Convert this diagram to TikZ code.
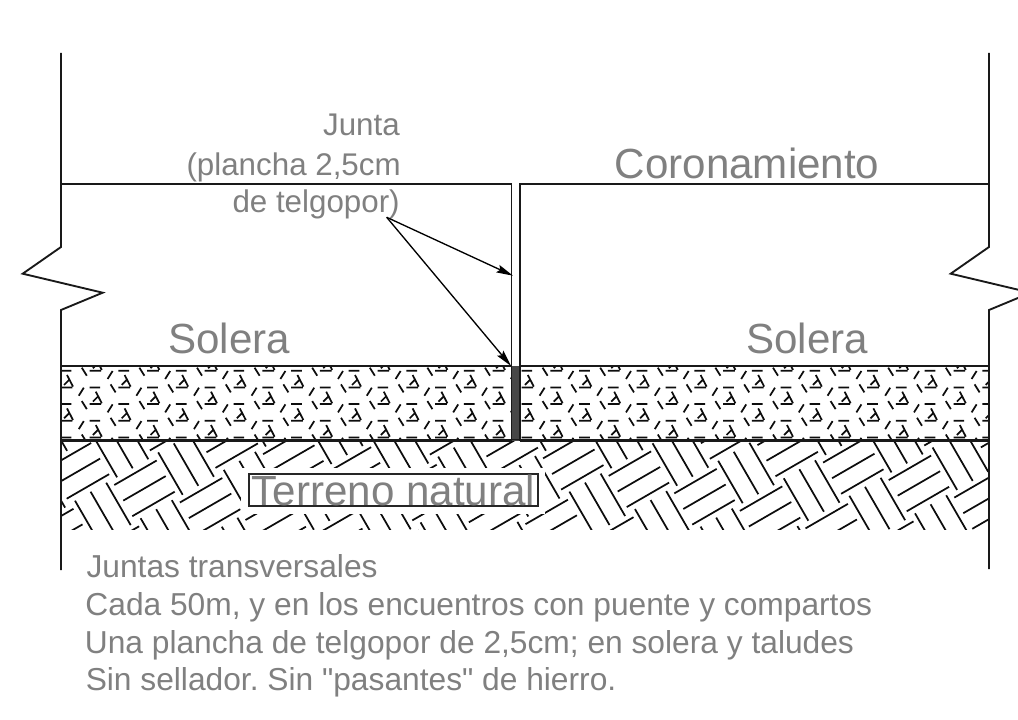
\documentclass[tikz,border=0pt]{standalone}
\usepackage{fontspec}
\newfontfamily\lib{Liberation Sans}
\usetikzlibrary{arrows.meta}
\definecolor{txt}{HTML}{808080}
\tikzset{
  outline/.style={line width=1.4pt,draw=black!90},
  thinrule/.style={line width=1pt,draw=black!90},
  hatch/.style={line width=1.3pt,black!95},
  big/.style={font=\lib\frenchspacing\fontsize{31.6}{34}\selectfont,text=txt,inner sep=0pt},
  small/.style={font=\lib\frenchspacing\fontsize{23.8}{26}\selectfont,text=txt,inner sep=0pt},
  junta/.style={font=\lib\fontsize{23.5}{26}\selectfont,text=txt,inner sep=0pt},
  pointer/.style={line width=1pt,black,-{Stealth[length=12.5pt,width=6pt,inset=2pt]}},
}
\begin{document}
\begin{tikzpicture}[x=0.75pt,y=-0.75pt]
\useasboundingbox (0,0) rectangle (1018,720);
\clip (0,0) rectangle (1018,720);
\fill[white] (0,0) rectangle (1018,720);
% concrete
\begin{scope}
\clip (62,366) rectangle (511,440) (520,366) rectangle (989,440);
\foreach \j in {-1,...,5}{
\foreach \i in {-4,...,17}{
 \pgfmathsetmacro{\ox}{118.3+57.6*\i+28.8*\j}
 \pgfmathsetmacro{\oy}{370.7+16.7*\j}
 \begin{scope}[shift={(\ox,\oy)}]
 \draw[hatch] (0,0)--(10.7,0) (-10.7,8.3)--(-5.7,0.3) (-7.7,13.7)--(-2.7,21.7)
   (6.3,4.3)--(12.3,15.9) (8.6,9)--(3.4,14.2) (0,16.7)--(11.7,16.7);
 \end{scope}
}}
\end{scope}
% ground
\begin{scope}
\clip (62,441) rectangle (989,529.5);
\foreach \j in {-4,...,5}{
\foreach \i in {-4,...,15}{
 \pgfmathsetmacro{\ox}{114.3+65.6*\i+17.6*\j}
 \pgfmathsetmacro{\oy}{485+17.5*\i-65.8*\j}
 \begin{scope}[shift={(\ox,\oy)}]
 \draw[hatch] (0,0)--(42.4,-24.5) (9,15.6)--(51.4,-8.9) (18,31.2)--(60.4,6.7)
   (43.9,-32.6)--(68.4,9.8) (59.5,-41.6)--(84,0.8) (75.1,-50.6)--(99.6,-8.2);
 \end{scope}
}}
\end{scope}
\fill[white] (241,468) rectangle (545,514);
% joint
\fill[black!72] (511,366) rectangle (520,441);
% outlines
\coordinate (lt) at (61,53); \coordinate (lb) at (61,570);
\coordinate (rt) at (989,53); \coordinate (rb) at (989,569);
\draw[outline] (lt)--(61,247)--(22.7,273.7)--(102.7,292.7)--(61,310)--(lb);
\draw[outline] (rt)--(989,247)--(950.7,273.7)--(1030.7,292.7)--(989,310)--(rb);
\draw[outline] (61,184)--(511.5,184)--(511.5,441);
\draw[outline] (989,184)--(520,184)--(520,441);
\draw[outline] (61,366)--(511,366) (520,366)--(989,366);
\draw[thinrule] (61,439.4)--(989,439.4);
\draw[thinrule] (61,441)--(511,441) (520,441)--(989,441);
% texts
\node[big,anchor=base west] (coron) at (614.5,179) {Coronamiento};
\node[big,anchor=base west] (sol1) at (168,353.5) {Solera};
\node[big,anchor=base west] (sol2) at (746,353.5) {Solera};
\node[big,anchor=base west,draw=black!85,line width=1.3pt,minimum width=289*0.75pt,text height=23.5pt,text depth=1pt] (terr) at (248,505) {Terreno natural};
\node[junta,anchor=base east] (j1) at (400,136) {Junta};
\node[junta,anchor=base east] (j2) at (401,176) {(plancha 2,5cm};
\node[junta,anchor=base east] (j3) at (400,213) {de telgopor)};
\node[small,anchor=base west] (n1) at (86.3,577) {Juntas transversales};
\node[small,anchor=base west] (n2) at (85.2,615) {Cada 50m, y en los encuentros con puente y compartos};
\node[small,anchor=base west] (n3) at (84.6,653) {Una plancha de telgopor de 2,5cm; en solera y taludes};
\node[small,anchor=base west] (n4) at (85.5,690.5) {Sin sellador. Sin "pasantes" de hierro.};
% arrows
\coordinate (from) at (386.7,217.3);
\coordinate (to1) at (513,275.7);
\coordinate (to2) at (511,366);
\draw[pointer] (from)--(to1);
\draw[pointer] (from)--(to2);
\end{tikzpicture}
\end{document}
